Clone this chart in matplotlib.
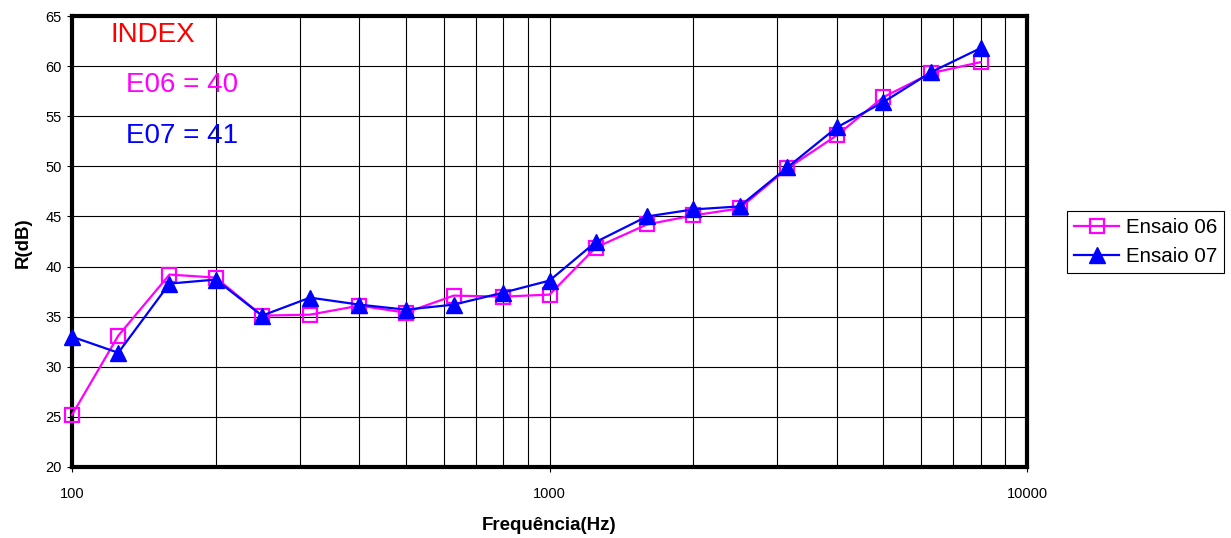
import matplotlib
matplotlib.use("Agg")
import matplotlib.pyplot as plt
from matplotlib.ticker import LogLocator, NullFormatter, FixedLocator

plt.rcParams['font.family'] = ['Liberation Sans', 'DejaVu Sans']

# One-third-octave band centre frequencies (Hz)
freqs = [100, 125, 160, 200, 250, 315, 400, 500, 630, 800,
         1000, 1250, 1600, 2000, 2500, 3150, 4000, 5000, 6300, 8000]

# Sound reduction index R (dB) for the two tests
ensaio06 = [25.2, 33.1, 39.2, 38.9, 35.1, 35.2, 36.1, 35.4, 37.1, 37.0,
            37.2, 41.9, 44.2, 45.1, 45.8, 49.8, 53.1, 56.9, 59.3, 60.4]
ensaio07 = [33.0, 31.4, 38.3, 38.7, 35.1, 36.9, 36.2, 35.7, 36.2, 37.4,
            38.6, 42.45, 45.0, 45.7, 46.0, 49.9, 53.9, 56.4, 59.4, 61.8]

series_names = ["Ensaio 06", "Ensaio 07"]
index_title = "INDEX"
index_lines = ["E06 = 40", "E07 = 41"]
x_ticks = [100, 1000, 10000]
y_ticks = list(range(20, 70, 5))

W, H = 1231, 538
fig = plt.figure(figsize=(W / 100, H / 100), dpi=100)
ax = fig.add_axes([72 / W, 1 - 467 / H, 955 / W, 451 / H])

ax.plot(freqs, ensaio06, color='#ff00ff', lw=1.6, marker='s', ms=10.5,
        mfc='none', mec='#ff00ff', mew=1.6, label=series_names[0],
        zorder=3, clip_on=False)
ax.plot(freqs, ensaio07, color='#0000ff', lw=1.6, marker='^', ms=11.5,
        mfc='#0000ff', mec='#0000ff', mew=1.0, label=series_names[1],
        zorder=4, clip_on=False)

ax.set_xscale('log')
ax.set_xlim(100, 10000)
ax.set_ylim(20, 65)
ax.xaxis.set_major_locator(FixedLocator(x_ticks))
ax.set_xticklabels([str(t) for t in x_ticks])
ax.xaxis.set_minor_locator(LogLocator(base=10, subs=range(2, 10)))
ax.xaxis.set_minor_formatter(NullFormatter())
ax.set_yticks(y_ticks)

ax.grid(True, which='major', axis='both', color='black', lw=0.8)
ax.grid(True, which='minor', axis='x', color='black', lw=0.8)
ax.set_axisbelow(True)

ax.tick_params(axis='both', which='major', direction='out', length=3.5,
               width=0.8, labelsize=10.5, color='black')
ax.tick_params(axis='x', which='major', pad=11)
ax.tick_params(axis='y', which='major', pad=4)
ax.tick_params(axis='x', which='minor', length=0)

for side in ['left', 'bottom', 'right', 'top']:
    ax.spines[side].set_linewidth(3)
    ax.spines[side].set_color('black')

# Single-number ratings
ax.text(0.0398, 0.942, index_title, transform=ax.transAxes, color='#ff0000',
        fontsize=20, ha='left', va='baseline')
ax.text(0.0565, 0.8315, index_lines[0], transform=ax.transAxes, color='#ff00ff',
        fontsize=20, ha='left', va='baseline')
ax.text(0.0565, 0.719, index_lines[1], transform=ax.transAxes, color='#0000ff',
        fontsize=20, ha='left', va='baseline')

fig.text(23 / W, 1 - 243 / H, "R(dB)", rotation=90, ha='center', va='center',
         fontsize=13.5, fontweight='bold')
fig.text(549 / W, 1 - 526 / H, "Frequência(Hz)", ha='center', va='center',
         fontsize=13.5, fontweight='bold')

leg = fig.legend(loc='center left', bbox_to_anchor=(1067 / W, 1 - 242 / H),
                 fontsize=14.8, frameon=True, fancybox=False, framealpha=1,
                 edgecolor='black', handlelength=2.2, borderpad=0.35,
                 labelspacing=0.5, handletextpad=0.3, borderaxespad=0)
leg.get_frame().set_linewidth(0.8)

fig.savefig("out.png", dpi=100)
